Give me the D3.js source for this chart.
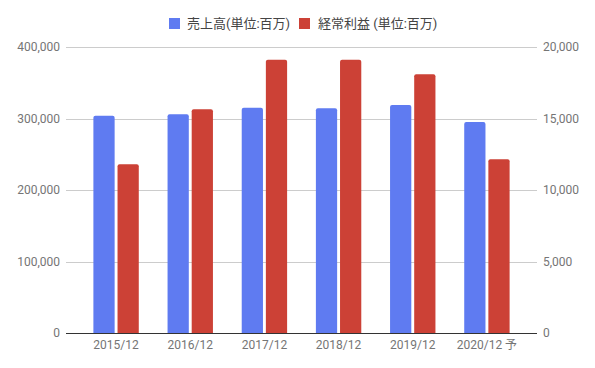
<!DOCTYPE html>
<html>
<head>
<meta charset="utf-8">
<script src="https://cdn.jsdelivr.net/npm/d3@7"></script>
<style>
  body { margin: 0; background: #fff; }
  text { font-family: Roboto, "Noto Sans CJK JP", sans-serif; }
</style>
</head>
<body>
<svg></svg>
<script>
const width = 595;
const height = 368;

const categories = ['2015/12', '2016/12', '2017/12', '2018/12', '2019/12', '2020/12 予'];
const sales = [304000, 306000, 315000, 314500, 319000, 295000];
const profit = [11800, 15650, 19100, 19100, 18100, 12150];
const seriesNames = ['売上高(単位:百万)', '経常利益 (単位:百万)'];
const colors = ['#5f7bf1', '#cc4136'];
const leftTicks = [0, 100000, 200000, 300000, 400000];
const rightTicks = [0, 5000, 10000, 15000, 20000];

const svg = d3.select('svg')
    .attr('width', width)
    .attr('height', height);

const gridLeft = 66, gridRight = 537;
const plotTop = 47, plotBottom = 333;

const x0 = d3.scaleBand()
    .domain(categories)
    .range([79, 524])
    .paddingInner(0.388)
    .paddingOuter(0.194);

const x1 = d3.scaleBand()
    .domain([0, 1])
    .range([0, x0.bandwidth()])
    .paddingInner(0.12);

const yLeft = d3.scaleLinear().domain([0, 400000]).range([plotBottom, plotTop]);
const yRight = d3.scaleLinear().domain([0, 20000]).range([plotBottom, plotTop]);

const fmt = d3.format(',');

// gridlines
svg.append('g')
    .selectAll('line')
    .data(leftTicks.filter(d => d > 0))
    .join('line')
    .attr('x1', gridLeft)
    .attr('x2', gridRight)
    .attr('y1', d => Math.round(yLeft(d)) + 0.5)
    .attr('y2', d => Math.round(yLeft(d)) + 0.5)
    .attr('stroke', '#cccccc')
    .attr('stroke-width', 1);

// left axis labels
svg.append('g')
    .selectAll('text')
    .data(leftTicks)
    .join('text')
    .attr('x', 60)
    .attr('y', d => yLeft(d))
    .attr('dy', '0.35em')
    .attr('text-anchor', 'end')
    .attr('font-size', 12)
    .attr('fill', '#757575')
    .text(d => fmt(d));

// right axis labels
svg.append('g')
    .selectAll('text')
    .data(rightTicks)
    .join('text')
    .attr('x', 543)
    .attr('y', d => yRight(d))
    .attr('dy', '0.35em')
    .attr('text-anchor', 'start')
    .attr('font-size', 12)
    .attr('fill', '#757575')
    .text(d => fmt(d));

// bars with rounded tops
function barPath(x, y, w, h, r) {
    r = Math.min(r, h, w / 2);
    return `M${x},${y + h}V${y + r}Q${x},${y} ${x + r},${y}H${x + w - r}Q${x + w},${y} ${x + w},${y + r}V${y + h}Z`;
}

const groups = svg.append('g')
    .selectAll('g')
    .data(categories)
    .join('g')
    .attr('transform', d => `translate(${x0(d)},0)`);

groups.append('path')
    .attr('fill', colors[0])
    .attr('d', (d, i) => {
        const y = yLeft(sales[i]);
        return barPath(x1(0), y, x1.bandwidth(), plotBottom - y, 2);
    });

groups.append('path')
    .attr('fill', colors[1])
    .attr('d', (d, i) => {
        const y = yRight(profit[i]);
        return barPath(x1(1), y, x1.bandwidth(), plotBottom - y, 2);
    });

// baseline
svg.append('line')
    .attr('x1', gridLeft)
    .attr('x2', gridRight)
    .attr('y1', plotBottom + 0.5)
    .attr('y2', plotBottom + 0.5)
    .attr('stroke', '#333333')
    .attr('stroke-width', 1);

// category labels
svg.append('g')
    .selectAll('text')
    .data(categories)
    .join('text')
    .attr('x', d => x0(d) + x0.bandwidth() / 2)
    .attr('y', 349)
    .attr('text-anchor', 'middle')
    .attr('font-size', 12)
    .attr('fill', '#757575')
    .text(d => d);

// legend
const legendX = [169, 299];
const legend = svg.append('g')
    .selectAll('g')
    .data(seriesNames)
    .join('g')
    .attr('transform', (d, i) => `translate(${legendX[i]},18)`);

legend.append('rect')
    .attr('width', 11)
    .attr('height', 11)
    .attr('fill', (d, i) => colors[i]);

legend.append('text')
    .attr('x', (d, i) => i == 0 ? 18 : 19)
    .attr('y', 5.5)
    .attr('dy', '0.35em')
    .attr('font-size', 13)
    .attr('fill', '#444444')
    .text(d => d);
</script>
</body>
</html>
